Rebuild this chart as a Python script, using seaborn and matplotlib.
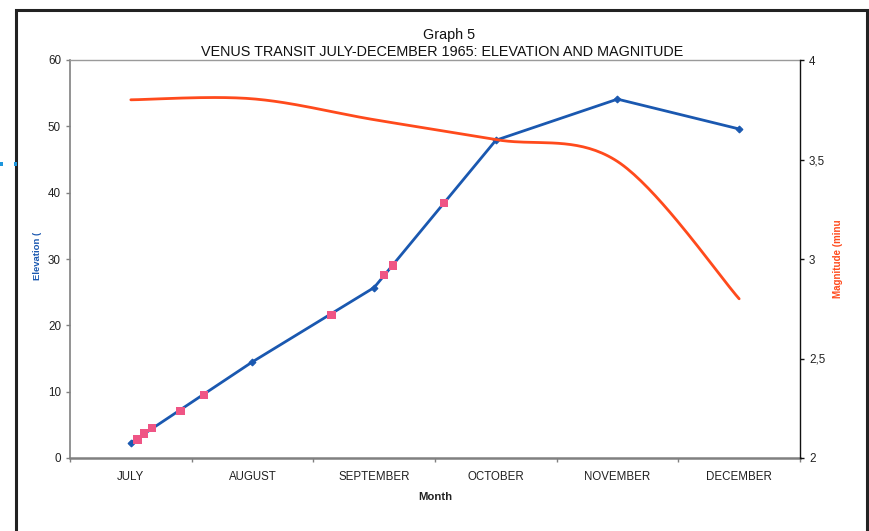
import numpy as np
import pandas as pd
import matplotlib
matplotlib.use("Agg")
import matplotlib.pyplot as plt
import seaborn as sns
from matplotlib.patches import Rectangle

# ---- data ----
months = ["JULY", "AUGUST", "SEPTEMBER", "OCTOBER", "NOVEMBER", "DECEMBER"]
elevation = [2.3, 14.5, 25.7, 47.9, 54.1, 49.6]
magnitude = [3.80, 3.805, 3.70, 3.60, 3.49, 2.80]

# observation dates (fraction of the month axis) and their elevation
obs_pos = [0.055, 0.109, 0.175, 0.408, 0.602, 1.649, 2.081, 2.155, 2.574]
obs_elev = [2.8, 3.7, 4.5, 7.1, 9.5, 21.6, 27.6, 29.0, 38.4]

elev_ticks = [0, 10, 20, 30, 40, 50, 60]
mag_ticks = [2, 2.5, 3, 3.5, 4]
mag_tick_labels = ["2", "2,5", "3", "3,5", "4"]

BLUE = "#1a58b0"
RED = "#ff4a1c"
PINK = "#ef5585"
GREY = "#808080"
TXT = "#222222"


def smooth_curve(x, y, n=40):
    """Piecewise cubic Bezier through the points (spreadsheet-style smoothing)."""
    pts = np.column_stack([x, y]).astype(float)
    ext = np.vstack([pts[0], pts, pts[-1]])
    t = np.linspace(0, 1, n)[:, None]
    parts = []
    for i in range(len(pts) - 1):
        p0, p3 = ext[i + 1], ext[i + 2]
        c1 = p0 + (ext[i + 2] - ext[i]) / 6.0
        c2 = p3 - (ext[i + 3] - ext[i + 1]) / 6.0
        seg = ((1 - t) ** 3) * p0 + 3 * ((1 - t) ** 2) * t * c1 \
            + 3 * (1 - t) * t ** 2 * c2 + t ** 3 * p3
        parts.append(seg if i == 0 else seg[1:])
    return np.vstack(parts)


sns.set_style("white")
plt.rcParams["font.family"] = ["Liberation Sans", "DejaVu Sans"]

fig = plt.figure(figsize=(8.7, 5.31), dpi=100)
ax = fig.add_axes([70 / 870, 1 - 458 / 531, 730 / 870, 398 / 531])
ax2 = ax.twinx()

pos = np.arange(len(months))
df = pd.DataFrame({"pos": pos, "elevation": elevation, "magnitude": magnitude})
obs = pd.DataFrame({"pos": obs_pos, "elevation": obs_elev})

# elevation line with small diamond markers
sns.lineplot(data=df, x="pos", y="elevation", ax=ax, color=BLUE, lw=2.0,
             marker="D", markersize=3.5, markeredgecolor=BLUE, zorder=3)
# observation points
sns.scatterplot(data=obs, x="pos", y="elevation", ax=ax, color=PINK,
                marker="s", s=36, edgecolor="none", zorder=4)

# smoothed magnitude curve
curve = smooth_curve(df["pos"], df["magnitude"])
sns.lineplot(x=curve[:, 0], y=curve[:, 1], ax=ax2, color=RED, lw=2.0,
             sort=False, estimator=None)

# ---- axes ----
ax.set_xlim(-0.5, len(months) - 0.5)
ax.set_ylim(0, 60)
ax2.set_ylim(2, 4)

ax.set_xticks(pos)
ax.set_xticklabels(months, fontsize=8.3, color=TXT)
ax.set_xticks(np.arange(-0.5, len(months)), minor=True)
ax.tick_params(axis="x", which="major", length=0, pad=9)
ax.tick_params(axis="x", which="minor", length=3, width=1, color=GREY,
               direction="out", bottom=True)

ax.set_yticks(elev_ticks)
ax.set_yticklabels([str(v) for v in elev_ticks], fontsize=8.4, color=TXT)
ax.tick_params(axis="y", length=3, width=1, color=GREY, direction="out",
               pad=3.5, left=True)

ax2.set_yticks(mag_ticks)
ax2.set_yticklabels(mag_tick_labels, fontsize=8.4, color=TXT)
ax2.tick_params(axis="y", length=3, width=1, color="#111111",
                direction="out", pad=3.5, right=True)

ax.set_xlabel("Month", fontsize=8.2, fontweight="bold", color=TXT, labelpad=7)
ax.set_ylabel("")
ax2.set_ylabel("")
ax.grid(False)
ax2.grid(False)

for a in (ax, ax2):
    for s in a.spines.values():
        s.set_visible(False)
ax.spines["left"].set_visible(True)
ax.spines["left"].set_color(GREY)
ax.spines["left"].set_linewidth(1.2)
ax.spines["bottom"].set_visible(True)
ax.spines["bottom"].set_color(GREY)
ax.spines["bottom"].set_linewidth(1.8)
ax.spines["top"].set_visible(True)
ax.spines["top"].set_color("#9a9a9a")
ax.spines["top"].set_linewidth(1.0)
ax2.spines["right"].set_visible(True)
ax2.spines["right"].set_color("#111111")
ax2.spines["right"].set_linewidth(1.0)

# axis titles
fig.text(37.5 / 870, 1 - 256 / 531, "Elevation (", rotation=90, ha="center",
         va="center", fontsize=6.8, fontweight="bold", color=BLUE)
fig.text(838 / 870, 1 - 259 / 531, "Magnitude (minu", rotation=90,
         ha="center", va="center", fontsize=7.0, fontweight="bold", color=RED)

# chart title
fig.text(449 / 870, 1 - 35 / 531, "Graph 5", ha="center", va="center",
         fontsize=10.4, color="#111111")
fig.text(442.5 / 870, 1 - 52 / 531,
         "VENUS TRANSIT JULY-DECEMBER 1965: ELEVATION AND MAGNITUDE",
         ha="center", va="center", fontsize=10.4, color="#111111")

# chart frame
fig.patches.append(Rectangle((16.5 / 870, -0.05), (867.5 - 16.5) / 870,
                             1.05 - 9.5 / 531, transform=fig.transFigure,
                             fill=False, edgecolor="#222222", linewidth=2.2))
# small selection handles on the frame edge
fig.patches.append(Rectangle((0, 1 - 166 / 531), 3 / 870, 4 / 531,
                             transform=fig.transFigure, color="#1e96dc", lw=0))
fig.patches.append(Rectangle((14.5 / 870, 1 - 166 / 531), 3 / 870, 4 / 531,
                             transform=fig.transFigure, color="#1e96dc", lw=0,
                             zorder=5))

fig.savefig("out.png", dpi=100)
